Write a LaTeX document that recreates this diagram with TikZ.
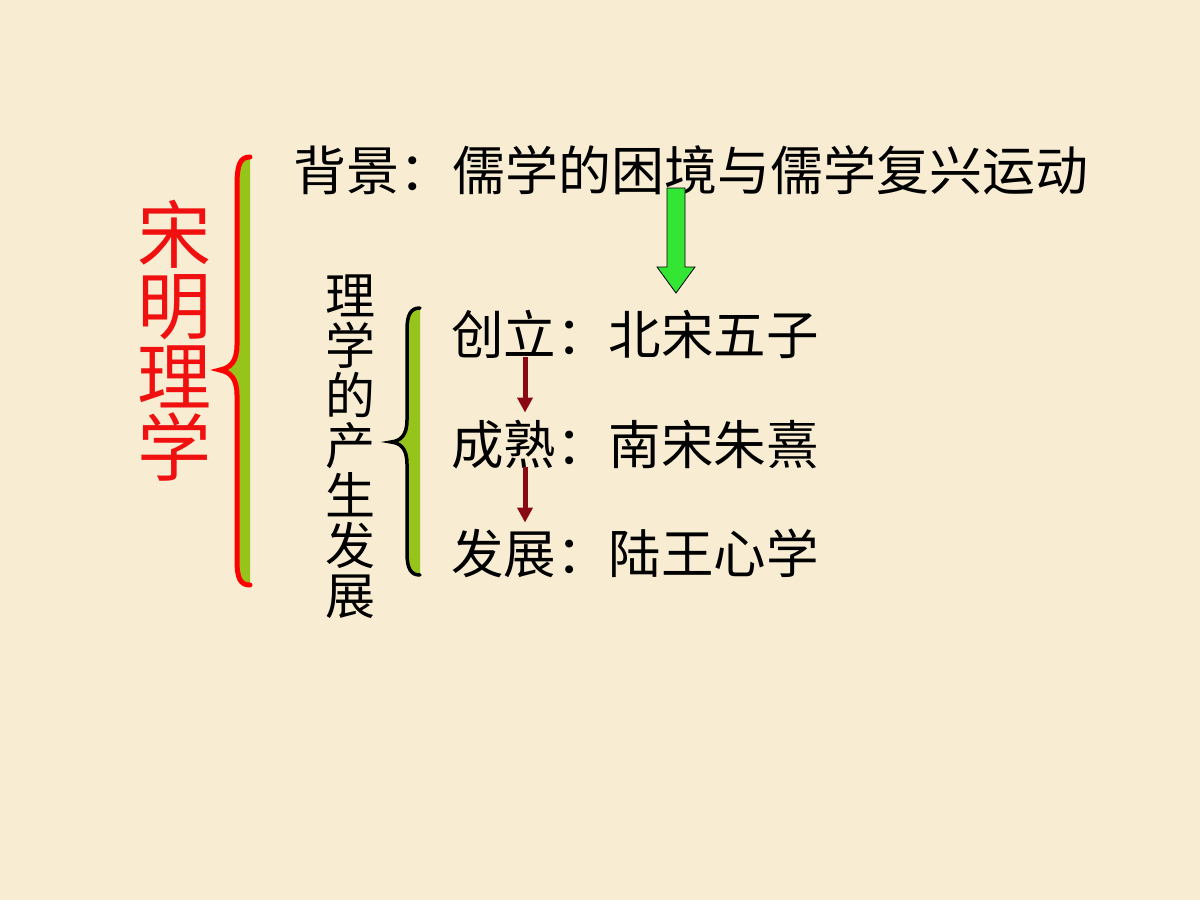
\documentclass[tikz,border=0pt]{standalone}
\usepackage{fontspec}
\newfontfamily\cjk{Noto Sans CJK SC}
\usetikzlibrary{arrows.meta}
\definecolor{bgc}{HTML}{F8EDD3}
\definecolor{bracegreen}{HTML}{96C41A}
\definecolor{arrowgreen}{HTML}{33E633}
\definecolor{darkred}{HTML}{8A0A14}
\definecolor{titlered}{HTML}{F01010}
\tikzset{
  hdr/.style={font=\cjk\fontsize{53}{60}\selectfont, inner sep=0pt, text height=46.6pt, text depth=6.4pt, anchor=west},
  rowtxt/.style={font=\cjk\fontsize{52.5}{60}\selectfont, inner sep=0pt, text height=46.2pt, text depth=6.3pt, anchor=west},
  vert/.style={font=\cjk\fontsize{50}{50}\selectfont, inner sep=0pt, align=center},
  title/.style={font=\cjk\fontsize{74}{71}\selectfont, inner sep=0pt, align=center, text=titlered},
  darr/.style={draw=darkred, line width=5pt, -{Triangle[length=15pt,width=15pt]}},
  bigbrace/.style={draw=red, line width=5pt, line cap=round},
  smallbrace/.style={draw=black, line width=3.5pt, line cap=round},
  blockarrow/.style={fill=arrowgreen, draw=black, line width=0.8pt, line join=miter}
}
\begin{document}
\begin{tikzpicture}[x=1pt,y=-1pt]
\fill[bgc] (0,0) rectangle (1200,900);
\useasboundingbox (0,0) rectangle (1200,900);

% big brace
\fill[bracegreen] (250,157) .. controls (240,157) and (237,165) .. (237,185) -- (237,345)
  .. controls (237,362) and (230,368) .. (220,370) .. controls (230,372) and (237,378) .. (237,395)
  -- (237,560) .. controls (237,578) and (240,585) .. (250,585) -- cycle;
\draw[bigbrace] (250,157) .. controls (240,157) and (237,165) .. (237,185) -- (237,345)
  .. controls (237,362) and (230,368) .. (220,370) .. controls (230,372) and (237,378) .. (237,395)
  -- (237,560) .. controls (237,578) and (240,585) .. (250,585);

% small brace
\fill[bracegreen] (420,308) .. controls (411,308) and (407,314) .. (407,330) -- (407,420)
  .. controls (407,436) and (400,441) .. (391,442) .. controls (400,443) and (407,448) .. (407,464)
  -- (407,553) .. controls (407,569) and (411,575) .. (420,575) -- cycle;
\draw[smallbrace] (420,308) .. controls (411,308) and (407,314) .. (407,330) -- (407,420)
  .. controls (407,436) and (400,441) .. (391,442) .. controls (400,443) and (407,448) .. (407,464)
  -- (407,553) .. controls (407,569) and (411,575) .. (420,575);

% title
\node[title] (title) at (174,341) {宋\\明\\理\\学};

% header
\node[hdr] (bg) at (293,170) {背景：儒学的困境与儒学复兴运动};

% vertical label
\node[vert] (v) at (350,447) {理\\学\\的\\产\\生\\发\\展};

% rows
\node[rowtxt] (r1) at (451,335) {创立：北宋五子};
\node[rowtxt] (r2) at (451,445) {成熟：南宋朱熹};
\node[rowtxt] (r3) at (451,554) {发展：陆王心学};

% green block arrow
\draw[blockarrow] (667,188) -- (685,188) -- (685,267) -- (695,267) -- (676,293) -- (657,267) -- (667,267) -- cycle;

% red arrows
\draw[darr] ([xshift=74pt,yshift=4pt]r1.south west) -- ([xshift=74pt,yshift=6pt]r2.north west);
\draw[darr] ([xshift=74pt,yshift=4pt]r2.south west) -- ([xshift=74pt,yshift=5pt]r3.north west);
\end{tikzpicture}
\end{document}
